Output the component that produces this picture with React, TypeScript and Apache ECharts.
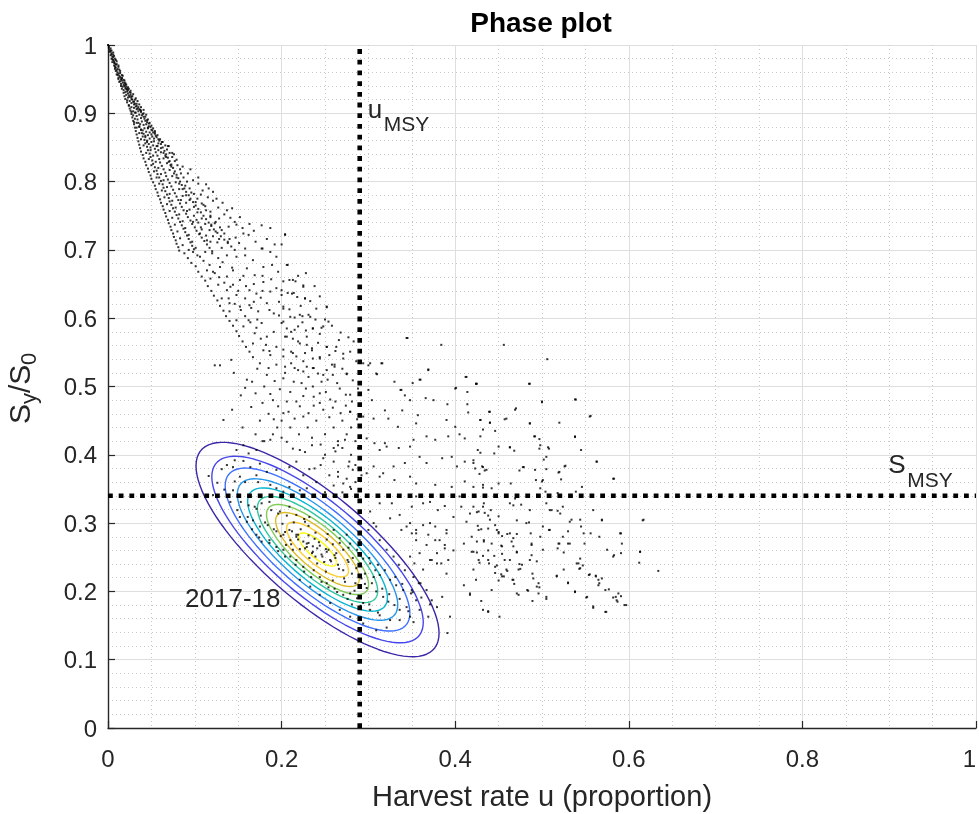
import React, { useEffect, useRef } from 'react';
import * as echarts from 'echarts';

// ---------- axis / reference values ----------
const xTicks = [0, 0.2, 0.4, 0.6, 0.8, 1];
const yTicks = [0, 0.1, 0.2, 0.3, 0.4, 0.5, 0.6, 0.7, 0.8, 0.9, 1];
const uMSY = 0.29;
const sMSY = 0.34;
const titleText = 'Phase plot';
const xName = 'Harvest rate u (proportion)';
const yearLabel = '2017-18';

// ---------- contour (bivariate density of 2017-18) ----------
const contourCenter = [0.2414, 0.2613];
const contourOuterHalf = [0.14, 0.157];
const contourRho = -0.78;
const contourScales = [1, 0.87, 0.76, 0.66, 0.575, 0.495, 0.42, 0.345, 0.255, 0.155];
const contourColors = ['#3E26A8', '#4747EB', '#3E6FFF', '#2796EB', '#08B5D0', '#31C69F', '#80CC59', '#DCBD29', '#FCCF30', '#F9FB15'];

// ---------- posterior draws (u, S/S0) ----------
const drawsTop: [number, number][] = [
  [0,1],[0.001,0.996],[0.002,0.993],[0.003,0.995],[0.002,0.990],[0.004,0.988],[0.003,0.985],[0.005,0.983],[0.004,0.980],[0.006,0.982],
  [0.006,0.978],[0.005,0.975],[0.007,0.976],[0.008,0.973],[0.007,0.970],[0.009,0.971],[0.009,0.967],[0.008,0.965],[0.010,0.963],[0.011,0.965],
  [0.011,0.960],[0.010,0.957],[0.012,0.958],[0.013,0.955],[0.012,0.952],[0.014,0.953],[0.015,0.950],[0.014,0.947],[0.016,0.948],[0.017,0.945],
  [0.015,0.943],[0.018,0.942],[0.017,0.939],[0.019,0.940],[0.020,0.937],[0.018,0.934],[0.021,0.935],[0.020,0.931],[0.022,0.932],[0.023,0.929],
  [0.021,0.927],[0.024,0.926],[0.023,0.923],[0.025,0.924],[0.027,0.921],[0.022,0.919],[0.025,0.918],[0.027,0.915],[0.029,0.917],[0.030,0.913],
  [0.024,0.911],[0.027,0.909],[0.030,0.908],[0.032,0.910],[0.033,0.906],[0.026,0.904],[0.029,0.903],[0.032,0.901],[0.035,0.903],[0.037,0.905],
  [0.001,0.998],[0.003,0.991],[0.004,0.986],[0.005,0.979],[0.007,0.974],[0.008,0.968],[0.009,0.962],[0.011,0.956],[0.012,0.950],[0.013,0.946],
  [0.015,0.940],[0.016,0.936],[0.018,0.930],[0.019,0.925],[0.020,0.921],[0.022,0.916],[0.024,0.912],[0.025,0.907],[0.027,0.902],[0.006,0.986],
  [0.009,0.978],[0.012,0.970],[0.014,0.962],[0.017,0.955],[0.019,0.948],[0.021,0.942],[0.024,0.936],[0.026,0.930],[0.028,0.925],[0.031,0.920],
  [0.033,0.914],[0.035,0.909],[0.038,0.904],[0.040,0.899],[0.029,0.897],[0.031,0.892],[0.033,0.886],[0.036,0.880],[0.038,0.876],[0.041,0.870],
  [0.043,0.865],[0.045,0.860],[0.047,0.855],[0.049,0.850],[0.042,0.892],[0.045,0.887],[0.047,0.881],[0.050,0.876],[0.052,0.872],[0.055,0.867],[0.058,0.862],
  [0.004,0.992],[0.006,0.989],[0.007,0.984],[0.008,0.980],[0.010,0.976],[0.010,0.972],[0.012,0.968],[0.013,0.964],[0.014,0.959],[0.016,0.956],
  [0.016,0.952],[0.018,0.949],[0.019,0.945],[0.020,0.942],[0.021,0.939],[0.022,0.936],[0.023,0.934],[0.025,0.931],[0.026,0.927],[0.027,0.924],
  [0.028,0.920],[0.030,0.917],[0.031,0.914],[0.033,0.911],[0.034,0.907],[0.036,0.906],[0.038,0.902],[0.039,0.897],[0.041,0.895],[0.044,0.898],
  [0.043,0.889],[0.046,0.891],[0.044,0.884],[0.048,0.886],[0.046,0.879],[0.050,0.882],[0.048,0.872],[0.052,0.878],[0.051,0.866],[0.054,0.874],
  [0.053,0.859],[0.057,0.868],[0.056,0.852],[0.060,0.862],[0.058,0.856],[0.063,0.858],[0.061,0.849],[0.066,0.853],[0.064,0.842],[0.068,0.847],
  [0.067,0.836],[0.071,0.842],[0.070,0.829],[0.074,0.836],[0.073,0.822],[0.077,0.830],[0.076,0.812],[0.080,0.824],[0.079,0.806],[0.083,0.818],
  [0.082,0.797],[0.087,0.806],[0.086,0.789],[0.091,0.800],[0.090,0.780],[0.094,0.790],[0.094,0.773],[0.099,0.782],[0.099,0.763],[0.103,0.775],
  [0.103,0.755],[0.108,0.768],[0.108,0.746],[0.113,0.758],[0.112,0.738],[0.118,0.750],[0.117,0.729],[0.124,0.741],[0.121,0.720],[0.129,0.733],
  [0.126,0.711],[0.134,0.724],[0.131,0.703],[0.140,0.716],
  [0.020,0.944],[0.023,0.938],[0.026,0.933],[0.029,0.928],[0.032,0.922],[0.034,0.918],[0.036,0.913],[0.038,0.909],[0.041,0.905],[0.016,0.951],
];

const drawsUpper: [number, number][] = [
  [0.027,0.899],[0.031,0.901],[0.036,0.898],[0.041,0.900],[0.028,0.894],[0.033,0.896],[0.038,0.893],[0.043,0.895],
  [0.029,0.889],[0.034,0.891],[0.039,0.888],[0.045,0.890],[0.030,0.884],[0.035,0.886],[0.041,0.883],[0.047,0.885],
  [0.031,0.879],[0.036,0.881],[0.042,0.878],[0.049,0.880],[0.032,0.874],[0.038,0.876],[0.044,0.873],[0.051,0.875],
  [0.033,0.869],[0.039,0.871],[0.046,0.868],[0.054,0.870],[0.034,0.864],[0.040,0.866],[0.048,0.863],[0.056,0.865],
  [0.035,0.859],[0.042,0.861],[0.050,0.858],[0.059,0.860],[0.036,0.854],[0.043,0.856],[0.052,0.853],[0.061,0.855],
  [0.037,0.849],[0.045,0.851],[0.054,0.848],[0.063,0.850],[0.070,0.852],[0.038,0.844],[0.046,0.846],[0.055,0.843],[0.065,0.845],
  [0.040,0.839],[0.048,0.841],[0.057,0.838],[0.067,0.840],[0.074,0.842],[0.041,0.834],[0.049,0.836],[0.059,0.833],[0.069,0.835],
  [0.043,0.829],[0.051,0.831],[0.060,0.828],[0.071,0.830],[0.079,0.832],[0.044,0.824],[0.052,0.826],[0.062,0.823],[0.073,0.825],
  [0.046,0.819],[0.054,0.821],[0.064,0.818],[0.075,0.820],[0.086,0.822],[0.047,0.814],[0.056,0.816],[0.066,0.813],[0.077,0.815],
  [0.049,0.809],[0.057,0.811],[0.067,0.808],[0.079,0.810],[0.092,0.812],[0.050,0.804],[0.059,0.806],[0.069,0.803],[0.081,0.805],
  [0.052,0.799],[0.061,0.801],[0.071,0.798],[0.083,0.800],[0.098,0.802],[0.054,0.794],[0.063,0.796],[0.073,0.793],[0.085,0.795],[0.104,0.797],
  [0.055,0.789],[0.064,0.791],[0.075,0.788],[0.088,0.790],[0.057,0.784],[0.066,0.786],[0.077,0.783],[0.090,0.785],[0.109,0.787],
  [0.058,0.779],[0.068,0.781],[0.079,0.778],[0.093,0.780],[0.060,0.774],[0.070,0.776],[0.081,0.773],[0.095,0.775],[0.115,0.777],
  [0.061,0.769],[0.071,0.771],[0.083,0.768],[0.098,0.770],[0.121,0.772],[0.063,0.764],[0.073,0.766],[0.085,0.763],[0.101,0.765],
  [0.064,0.759],[0.075,0.761],[0.087,0.758],[0.104,0.760],[0.127,0.762],[0.066,0.754],[0.077,0.756],[0.090,0.753],[0.107,0.755],
  [0.067,0.749],[0.079,0.751],[0.092,0.748],[0.110,0.750],[0.134,0.752],[0.069,0.744],[0.081,0.746],[0.095,0.743],[0.113,0.745],[0.141,0.747],
  [0.070,0.739],[0.083,0.741],[0.097,0.738],[0.116,0.740],[0.072,0.734],[0.085,0.736],[0.100,0.733],[0.119,0.735],[0.148,0.737],
  [0.073,0.729],[0.087,0.731],[0.102,0.728],[0.122,0.730],[0.155,0.732],[0.075,0.724],[0.089,0.726],[0.105,0.723],[0.126,0.725],
  [0.076,0.719],[0.091,0.721],[0.108,0.718],[0.130,0.720],[0.162,0.722],[0.078,0.714],[0.093,0.716],[0.111,0.713],[0.134,0.715],
  [0.079,0.709],[0.095,0.711],[0.114,0.708],[0.138,0.710],[0.170,0.712],[0.081,0.704],[0.097,0.706],[0.117,0.703],[0.142,0.705],
  [0.082,0.699],[0.099,0.701],[0.120,0.698],[0.146,0.700],[0.178,0.702],
  [0.177,0.736],[0.187,0.732],[0.204,0.723],[0.116,0.790],[0.125,0.775],[0.137,0.758],[0.146,0.741],[0.156,0.724],
  [0.110,0.766],[0.118,0.748],[0.123,0.739],[0.131,0.729],[0.138,0.712],[0.106,0.724],[0.114,0.714],[0.102,0.744],
  [0.030,0.887],[0.037,0.884],[0.033,0.879],[0.040,0.875],[0.046,0.878],[0.036,0.871],[0.043,0.867],[0.050,0.869],[0.038,0.862],[0.045,0.858],
  [0.053,0.863],[0.041,0.853],[0.049,0.846],[0.057,0.852],[0.044,0.842],[0.052,0.838],[0.061,0.843],[0.047,0.833],[0.055,0.829],[0.064,0.834],
  [0.050,0.824],[0.058,0.820],[0.068,0.827],[0.053,0.815],[0.061,0.811],[0.071,0.817],[0.056,0.806],[0.064,0.802],[0.074,0.808],[0.059,0.797],
  [0.068,0.792],[0.078,0.799],[0.062,0.787],[0.071,0.782],[0.082,0.789],[0.065,0.777],[0.074,0.772],[0.086,0.779],[0.068,0.767],[0.078,0.762],
  [0.090,0.769],[0.071,0.757],[0.082,0.752],[0.094,0.759],[0.074,0.747],[0.086,0.742],[0.099,0.750],[0.077,0.737],[0.089,0.732],[0.104,0.740],
  [0.080,0.727],[0.093,0.722],[0.108,0.730],[0.083,0.717],[0.097,0.712],[0.113,0.721],[0.086,0.707],[0.101,0.703],[0.118,0.712],
  [0.058,0.846],[0.066,0.838],[0.072,0.824],[0.084,0.812],[0.089,0.794],[0.096,0.784],[0.101,0.770],[0.112,0.764],[0.118,0.756],[0.128,0.746],
  [0.124,0.727],[0.139,0.734],[0.147,0.718],[0.151,0.710],[0.158,0.702],[0.095,0.818],[0.104,0.806],[0.076,0.840],[0.069,0.852],[0.062,0.858],
  [0.054,0.872],[0.107,0.781],[0.113,0.796],[0.121,0.785],[0.132,0.769],[0.143,0.761],[0.152,0.748],[0.163,0.738],[0.168,0.728],[0.183,0.716],
  [0.192,0.708],[0.119,0.737],[0.128,0.716],[0.107,0.733],[0.098,0.741],[0.091,0.757],[0.084,0.773],
];

const drawsMiddle: [number, number][] = [
  [0.093,0.700],[0.098,0.697],[0.106,0.690],[0.112,0.697],[0.120,0.695],[0.127,0.688],[0.137,0.692],[0.148,0.690],[0.158,0.692],[0.167,0.685],
  [0.177,0.702],[0.187,0.697],[0.194,0.690],[0.114,0.670],[0.123,0.666],[0.129,0.675],[0.137,0.661],[0.144,0.670],[0.152,0.656],[0.160,0.673],
  [0.169,0.663],[0.179,0.675],[0.189,0.678],[0.206,0.678],[0.118,0.658],[0.127,0.649],[0.137,0.641],[0.144,0.649],[0.148,0.634],[0.158,0.629],
  [0.163,0.641],[0.171,0.636],[0.179,0.653],[0.187,0.639],[0.194,0.644],[0.200,0.634],[0.212,0.636],[0.225,0.646],[0.227,0.629],[0.213,0.656],
  [0.131,0.629],[0.140,0.622],[0.152,0.617],[0.163,0.619],[0.173,0.610],[0.183,0.622],[0.191,0.607],[0.202,0.614],[0.210,0.602],[0.221,0.605],
  [0.233,0.602],[0.240,0.614],[0.252,0.617],[0.140,0.610],[0.148,0.597],[0.156,0.588],[0.162,0.597],[0.169,0.578],[0.177,0.593],[0.183,0.573],
  [0.191,0.580],[0.200,0.593],[0.206,0.573],[0.215,0.583],[0.219,0.566],[0.229,0.573],[0.236,0.585],[0.248,0.588],[0.254,0.595],[0.167,0.563],
  [0.179,0.553],[0.187,0.546],[0.194,0.558],[0.202,0.544],[0.213,0.549],[0.225,0.537],[0.235,0.553],[0.244,0.541],[0.252,0.558],[0.175,0.534],
  [0.185,0.527],[0.194,0.532],[0.204,0.520],[0.215,0.527],[0.225,0.522],[0.236,0.527],[0.248,0.517],[0.123,0.531],[0.142,0.539],
  [0.088,0.695],[0.092,0.688],[0.096,0.681],[0.101,0.676],[0.104,0.668],[0.108,0.661],[0.112,0.655],[0.115,0.647],[0.119,0.640],[0.122,0.633],
  [0.126,0.626],[0.129,0.618],[0.133,0.611],[0.136,0.603],[0.140,0.596],[0.144,0.589],[0.148,0.581],[0.151,0.574],[0.155,0.566],[0.159,0.558],
  [0.163,0.551],[0.167,0.543],[0.103,0.692],[0.110,0.684],[0.117,0.678],[0.121,0.668],[0.128,0.660],[0.134,0.652],[0.141,0.646],[0.139,0.629],
  [0.146,0.621],[0.153,0.612],[0.158,0.603],[0.164,0.594],[0.171,0.586],[0.176,0.570],[0.182,0.561],[0.186,0.552],[0.172,0.598],[0.165,0.615],
  [0.150,0.640],[0.132,0.682],[0.143,0.674],[0.156,0.662],[0.168,0.650],[0.178,0.640],
  [0.204,0.722],[0.200,0.708],[0.207,0.678],[0.228,0.666],[0.202,0.654],[0.209,0.656],[0.216,0.654],[0.225,0.648],[0.200,0.641],[0.207,0.637],
  [0.214,0.637],[0.218,0.631],[0.227,0.629],[0.202,0.617],[0.209,0.613],[0.215,0.601],[0.224,0.603],[0.231,0.605],[0.239,0.598],[0.250,0.598],
  [0.252,0.616],[0.202,0.595],[0.206,0.585],[0.211,0.580],[0.219,0.588],[0.228,0.582],[0.236,0.585],[0.246,0.586],[0.204,0.573],[0.213,0.570],
  [0.221,0.563],[0.229,0.561],[0.235,0.556],[0.242,0.564],[0.252,0.558],[0.266,0.568],[0.277,0.572],[0.202,0.554],[0.211,0.551],[0.217,0.544],
  [0.227,0.549],[0.236,0.541],[0.244,0.543],[0.255,0.546],[0.279,0.551],[0.204,0.529],[0.211,0.534],[0.219,0.524],[0.229,0.529],[0.237,0.527],
  [0.252,0.524],[0.261,0.532],[0.270,0.526],[0.275,0.518],[0.202,0.512],[0.214,0.507],[0.223,0.505],[0.236,0.500],[0.246,0.507],[0.253,0.510],
  [0.264,0.505],[0.267,0.497],[0.210,0.492],[0.225,0.486],[0.237,0.485],[0.244,0.490],[0.256,0.481],[0.279,0.488],[0.281,0.478],[0.206,0.478],
  [0.221,0.471],[0.237,0.472],[0.248,0.466],[0.259,0.469],[0.279,0.463],[0.202,0.461],[0.225,0.456],
  [0.129,0.531],[0.145,0.520],[0.160,0.510],[0.170,0.490],[0.165,0.470],[0.180,0.500],[0.190,0.480],[0.185,0.460],[0.175,0.450],[0.195,0.440],
  [0.200,0.450],[0.210,0.440],[0.220,0.430],[0.230,0.440],[0.240,0.450],[0.250,0.430],[0.260,0.440],[0.270,0.450],[0.280,0.440],[0.255,0.455],
  [0.235,0.425],[0.245,0.415],[0.265,0.420],[0.275,0.430],[0.285,0.420],[0.190,0.430],[0.200,0.425],[0.155,0.440],[0.170,0.430],[0.180,0.420],
  [0.186,0.612],[0.197,0.604],[0.224,0.594],[0.244,0.577],[0.258,0.589],[0.268,0.579],[0.283,0.566],[0.262,0.552],[0.271,0.541],[0.286,0.537],
  [0.258,0.532],[0.231,0.514],[0.242,0.519],[0.259,0.517],[0.282,0.509],[0.288,0.497],[0.274,0.488],[0.262,0.478],[0.251,0.492],[0.228,0.497],
  [0.217,0.478],[0.198,0.496],[0.192,0.508],[0.183,0.517],[0.172,0.526],[0.166,0.507],[0.158,0.498],[0.187,0.489],[0.196,0.471],[0.208,0.463],
  [0.231,0.461],[0.244,0.476],[0.268,0.461],[0.287,0.452],[0.274,0.472],[0.215,0.453],[0.191,0.452],[0.178,0.476],[0.153,0.487],[0.143,0.466],
  [0.133,0.451],[0.222,0.618],[0.233,0.625],[0.244,0.632],[0.238,0.647],[0.219,0.662],[0.196,0.668],[0.188,0.657],[0.178,0.662],[0.168,0.624],
  [0.176,0.630],[0.197,0.624],[0.159,0.647],
];

const drawsRight: [number, number][] = [
  [0.345,0.571],[0.384,0.561],[0.456,0.561],[0.506,0.540],[0.485,0.504],[0.538,0.481],[0.555,0.456],[0.412,0.514],[0.424,0.504],[0.400,0.497],
  [0.414,0.492],[0.369,0.525],[0.360,0.510],[0.330,0.507],[0.315,0.534],[0.309,0.519],[0.302,0.534],[0.263,0.558],[0.271,0.548],[0.275,0.519],
  [0.261,0.529],[0.300,0.495],[0.337,0.495],[0.342,0.487],[0.344,0.571],[0.369,0.524],[0.413,0.514],[0.425,0.504],[0.401,0.498],[0.351,0.505],
  [0.359,0.510],[0.338,0.495],[0.316,0.534],[0.310,0.518],[0.300,0.531],[0.294,0.534],
  [0.304,0.480],[0.348,0.480],[0.366,0.483],[0.375,0.480],[0.391,0.474],[0.414,0.474],[0.415,0.462],[0.440,0.463],[0.469,0.466],[0.500,0.477],
  [0.538,0.427],[0.339,0.465],[0.319,0.465],[0.306,0.453],[0.357,0.458],[0.279,0.463],[0.294,0.456],[0.323,0.453],[0.334,0.441],[0.355,0.446],
  [0.390,0.451],[0.400,0.441],[0.429,0.451],[0.440,0.447],[0.457,0.452],[0.486,0.446],[0.491,0.427],[0.498,0.414],[0.507,0.411],[0.463,0.411],
  [0.450,0.412],[0.405,0.430],[0.411,0.424],[0.392,0.427],[0.377,0.422],[0.367,0.427],[0.352,0.422],[0.348,0.412],[0.335,0.410],[0.319,0.417],
  [0.321,0.412],[0.313,0.407],[0.307,0.417],[0.298,0.424],[0.273,0.422],[0.265,0.414],[0.260,0.410],[0.359,0.397],[0.367,0.388],[0.385,0.395],
  [0.396,0.397],[0.402,0.383],[0.411,0.390],[0.421,0.388],[0.431,0.383],[0.436,0.378],[0.478,0.382],[0.505,0.397],[0.526,0.383],[0.563,0.390],
  [0.582,0.365],[0.520,0.375],[0.492,0.378],[0.501,0.363],[0.342,0.388],[0.329,0.383],[0.317,0.373],[0.306,0.383],[0.298,0.373],[0.313,0.368],
  [0.282,0.378],[0.277,0.383],[0.271,0.358],[0.279,0.353],[0.265,0.368],[0.330,0.363],[0.348,0.368],[0.355,0.358],[0.377,0.356],[0.396,0.353],
  [0.411,0.361],[0.432,0.356],[0.464,0.358],
  [0.355,0.339],[0.363,0.329],[0.371,0.331],[0.380,0.319],[0.388,0.325],[0.398,0.309],[0.405,0.339],[0.407,0.324],[0.417,0.314],[0.425,0.316],
  [0.438,0.311],[0.448,0.290],[0.433,0.329],[0.463,0.329],[0.469,0.336],[0.486,0.319],[0.509,0.319],[0.521,0.314],[0.532,0.302],[0.559,0.319],
  [0.569,0.304],[0.616,0.304],[0.590,0.285],[0.482,0.300],[0.501,0.295],[0.548,0.285],[0.463,0.285],[0.371,0.300],[0.348,0.300],[0.336,0.312],
  [0.350,0.324],[0.327,0.329],[0.313,0.329],[0.302,0.317],[0.306,0.300],[0.325,0.307],[0.338,0.290],[0.355,0.285],[0.390,0.290],[0.413,0.302],
  [0.427,0.290],[0.450,0.285],
  [0.377,0.275],[0.388,0.268],[0.398,0.260],[0.410,0.270],[0.419,0.258],[0.433,0.273],[0.454,0.266],[0.465,0.273],[0.471,0.258],[0.488,0.270],
  [0.486,0.246],[0.477,0.239],[0.473,0.232],[0.467,0.217],[0.454,0.222],[0.446,0.236],[0.438,0.246],[0.427,0.246],[0.421,0.232],[0.417,0.197],
  [0.410,0.209],[0.392,0.246],[0.379,0.241],[0.371,0.246],[0.363,0.232],[0.358,0.212],[0.350,0.202],[0.385,0.192],[0.394,0.163],[0.432,0.173],
  [0.438,0.170],[0.471,0.197],[0.483,0.202],[0.494,0.207],[0.496,0.197],[0.505,0.192],[0.517,0.222],[0.525,0.232],[0.530,0.212],[0.538,0.199],
  [0.542,0.241],[0.544,0.234],[0.554,0.224],[0.562,0.222],[0.566,0.212],[0.573,0.202],[0.585,0.192],[0.587,0.185],[0.595,0.180],[0.573,0.170],
  [0.559,0.178],[0.552,0.192],[0.582,0.251],[0.592,0.270],[0.613,0.258],[0.509,0.290],[0.524,0.280],[0.532,0.270],[0.519,0.270],[0.501,0.261],
  [0.457,0.246],[0.459,0.232],
  [0.424,0.504],[0.486,0.504],[0.500,0.478],[0.539,0.481],[0.556,0.457],[0.470,0.468],[0.459,0.453],[0.439,0.463],[0.429,0.451],[0.440,0.447],
  [0.432,0.437],[0.446,0.435],[0.486,0.446],[0.520,0.447],[0.492,0.427],[0.497,0.423],[0.538,0.426],[0.429,0.427],[0.426,0.407],[0.429,0.403],
  [0.445,0.402],[0.463,0.411],[0.468,0.406],[0.497,0.409],[0.508,0.409],[0.545,0.407],[0.502,0.393],[0.563,0.390],[0.479,0.382],[0.474,0.377],
  [0.505,0.379],[0.527,0.384],[0.519,0.374],[0.522,0.364],[0.493,0.363],[0.500,0.361],[0.583,0.365],[0.421,0.392],[0.432,0.382],[0.423,0.380],
  [0.434,0.377],[0.428,0.372],[0.421,0.353],[0.432,0.352],[0.442,0.351],[0.450,0.358],[0.498,0.351],[0.504,0.346],[0.518,0.344],[0.539,0.346],
  [0.546,0.353],[0.421,0.324],[0.427,0.317],[0.434,0.315],[0.441,0.319],[0.450,0.310],[0.432,0.324],[0.467,0.326],[0.476,0.327],[0.505,0.329],
  [0.511,0.319],[0.518,0.318],[0.524,0.324],[0.534,0.305],[0.544,0.305],[0.569,0.305],[0.617,0.305],[0.471,0.304],[0.485,0.301],[0.440,0.305],
  [0.446,0.297],[0.426,0.296],[0.430,0.291],[0.438,0.292],[0.450,0.287],[0.454,0.281],[0.460,0.284],[0.471,0.284],[0.467,0.278],[0.487,0.285],
  [0.498,0.280],[0.508,0.290],[0.530,0.288],[0.545,0.295],[0.556,0.285],[0.566,0.280],[0.591,0.285],[0.419,0.280],[0.425,0.273],[0.433,0.275],
  [0.442,0.270],[0.453,0.267],[0.467,0.266],[0.488,0.253],[0.488,0.268],[0.518,0.263],[0.525,0.257],[0.520,0.270],[0.530,0.270],[0.549,0.270],
  [0.575,0.261],[0.583,0.253],[0.591,0.256],[0.613,0.258],[0.421,0.258],[0.425,0.257],[0.432,0.252],[0.438,0.260],[0.445,0.252],[0.454,0.255],
  [0.471,0.257],[0.474,0.240],[0.494,0.244],[0.428,0.242],[0.439,0.241],[0.448,0.238],[0.460,0.230],[0.475,0.233],[0.489,0.226],[0.463,0.246],
  [0.540,0.241],[0.544,0.248],[0.547,0.238],[0.543,0.233],[0.555,0.225],[0.562,0.223],[0.565,0.217],[0.569,0.219],[0.565,0.209],[0.577,0.203],
  [0.582,0.191],[0.586,0.187],[0.588,0.197],[0.591,0.193],[0.597,0.180],[0.634,0.230],[0.612,0.242],[0.530,0.213],[0.517,0.223],[0.496,0.212],
  [0.497,0.206],[0.490,0.219],[0.468,0.211],[0.466,0.217],[0.456,0.222],[0.453,0.225],[0.446,0.227],[0.450,0.216],[0.424,0.217],[0.442,0.202],
  [0.430,0.186],[0.473,0.195],[0.484,0.201],[0.489,0.186],[0.505,0.189],[0.538,0.200],[0.551,0.191],[0.559,0.176],[0.574,0.170],[0.438,0.171],
  [0.451,0.163],[0.417,0.195],
];

const drawsEllipse: [number, number][] = [
  [0.178,0.420],[0.187,0.422],[0.206,0.419],[0.213,0.409],[0.221,0.407],[0.235,0.414],[0.227,0.404],[0.148,0.407],[0.156,0.414],[0.162,0.402],
  [0.171,0.407],[0.146,0.392],[0.156,0.391],[0.137,0.385],[0.144,0.382],[0.164,0.382],[0.175,0.387],[0.183,0.375],[0.194,0.378],[0.209,0.382],
  [0.217,0.390],[0.225,0.370],[0.232,0.379],[0.238,0.380],[0.171,0.370],[0.152,0.368],[0.158,0.360],[0.173,0.360],[0.187,0.356],[0.194,0.351],
  [0.202,0.346],[0.209,0.353],[0.221,0.348],[0.229,0.351],[0.144,0.348],[0.153,0.331],[0.162,0.326],[0.169,0.324],[0.177,0.329],[0.188,0.319],
  [0.198,0.317],[0.209,0.324],[0.217,0.312],[0.227,0.302],[0.232,0.309],[0.152,0.309],[0.160,0.302],[0.167,0.304],[0.175,0.295],[0.184,0.297],
  [0.194,0.288],[0.202,0.283],[0.209,0.290],[0.217,0.280],[0.225,0.273],[0.171,0.283],[0.177,0.273],[0.186,0.275],[0.194,0.265],[0.205,0.268],
  [0.213,0.261],[0.229,0.265],[0.236,0.258],
  [0.204,0.287],[0.210,0.275],[0.217,0.283],[0.229,0.270],[0.235,0.256],[0.241,0.263],[0.247,0.251],[0.252,0.258],[0.256,0.246],[0.261,0.253],
  [0.265,0.239],[0.271,0.231],[0.277,0.243],[0.281,0.226],[0.273,0.214],[0.285,0.212],[0.292,0.219],[0.298,0.205],[0.304,0.212],[0.309,0.200],
  [0.317,0.192],[0.323,0.185],[0.330,0.180],[0.336,0.173],[0.325,0.158],[0.313,0.165],[0.302,0.173],[0.294,0.183],[0.287,0.190],[0.279,0.197],
  [0.271,0.195],[0.261,0.204],[0.252,0.212],[0.244,0.221],[0.237,0.231],[0.225,0.236],[0.217,0.246],[0.210,0.251],[0.202,0.261],[0.221,0.217],
  [0.233,0.207],[0.244,0.195],[0.256,0.183],[0.267,0.173],[0.279,0.163],[0.294,0.153],[0.309,0.143],[0.321,0.147],[0.336,0.158],[0.352,0.155],
  [0.348,0.163],[0.344,0.177],[0.355,0.187],[0.349,0.197],[0.340,0.202],[0.332,0.209],[0.325,0.217],[0.313,0.224],[0.308,0.231],[0.302,0.241],
  [0.294,0.248],[0.287,0.261],[0.279,0.270],[0.275,0.283],[0.267,0.278],[0.260,0.290],[0.290,0.275],[0.300,0.290],[0.309,0.295],[0.313,0.275],
  [0.321,0.261],[0.329,0.251],[0.335,0.239],[0.342,0.231],[0.352,0.221],[0.360,0.212],[0.367,0.202],[0.373,0.187],[0.379,0.177],[0.359,0.173],
  [0.369,0.163],[0.391,0.139],[0.344,0.295],[0.350,0.285],[0.355,0.290],[0.363,0.297],[0.369,0.283],[0.377,0.295],[0.382,0.275],[0.390,0.285],
  [0.388,0.263],[0.379,0.256],[0.373,0.246],[0.367,0.268],[0.359,0.256],[0.355,0.275],[0.384,0.241],[0.390,0.226],[0.353,0.241],[0.348,0.251],
  [0.222,0.291],[0.231,0.282],[0.243,0.272],[0.251,0.262],[0.262,0.249],[0.236,0.266],[0.246,0.254],[0.257,0.244],[0.266,0.233],[0.214,0.301],
  [0.226,0.306],[0.206,0.311],[0.196,0.314],[0.186,0.331],[0.231,0.296],[0.239,0.286],[0.252,0.276],[0.259,0.269],[0.271,0.261],[0.282,0.249],
  [0.291,0.241],[0.276,0.246],[0.286,0.234],[0.296,0.226],[0.272,0.219],[0.259,0.216],[0.251,0.229],[0.241,0.241],[0.232,0.249],[0.221,0.262],
  [0.211,0.269],[0.199,0.281],[0.191,0.291],[0.181,0.301],[0.176,0.311],[0.201,0.299],[0.212,0.288],[0.219,0.276],[0.231,0.271],[0.244,0.267],
  [0.254,0.261],[0.263,0.256],[0.249,0.243],[0.239,0.251],[0.227,0.263],[0.219,0.283],[0.238,0.277],[0.253,0.284],[0.267,0.271],[0.277,0.264],
  [0.289,0.256],[0.301,0.249],[0.311,0.239],[0.306,0.221],[0.296,0.211],[0.284,0.201],[0.276,0.189],[0.264,0.199],[0.254,0.206],[0.246,0.214],
  [0.234,0.221],[0.226,0.229],[0.216,0.239],[0.204,0.251],[0.196,0.259],[0.186,0.271],[0.174,0.279],[0.166,0.291],[0.161,0.309],[0.171,0.321],
  [0.149,0.319],[0.141,0.331],[0.134,0.349],[0.146,0.361],[0.126,0.359],[0.131,0.379],[0.121,0.341],[0.116,0.369],[0.319,0.231],[0.331,0.221],
  [0.339,0.211],[0.351,0.199],[0.361,0.191],[0.371,0.181],[0.316,0.204],[0.324,0.196],[0.336,0.189],[0.346,0.171],[0.301,0.181],[0.311,0.169],
  [0.291,0.179],[0.281,0.181],
  [0.250,0.400],[0.260,0.390],[0.270,0.410],[0.280,0.400],[0.285,0.385],[0.265,0.375],[0.255,0.370],[0.275,0.365],[0.245,0.385],[0.240,0.360],
  [0.260,0.355],[0.280,0.350],[0.270,0.345],[0.250,0.345],[0.285,0.360],[0.292,0.370],[0.278,0.390],[0.288,0.410],[0.262,0.405],[0.248,0.395],
];

const allDraws: [number, number][] = [...drawsTop, ...drawsUpper, ...drawsMiddle, ...drawsRight, ...drawsEllipse];

const FONT = "'Liberation Sans', Arial, Helvetica, sans-serif";
const AX = '#262626';

function ellipse(scale: number): number[][] {
  const pts: number[][] = [];
  const [cx, cy] = contourCenter;
  const [ax, ay] = contourOuterHalf;
  const r = contourRho;
  const q = Math.sqrt(1 - r * r);
  for (let i = 0; i <= 96; i++) {
    const t = (i / 96) * Math.PI * 2;
    const c = Math.cos(t);
    const s = Math.sin(t);
    pts.push([cx + scale * ax * c, cy + scale * ay * (r * c + q * s)]);
  }
  return pts;
}

export default function App() {
  const ref = useRef<HTMLDivElement>(null);
  useEffect(() => {
    if (!ref.current) return;
    const chart = echarts.init(ref.current, undefined, { renderer: 'svg' });
    const contourSeries = contourScales.map((sc, i) => ({
      type: 'line',
      data: ellipse(sc),
      showSymbol: false,
      symbol: 'none',
      silent: true,
      z: 2,
      lineStyle: { color: contourColors[i], width: 1.4 },
    }));
    const dotted = { color: '#000', width: 4.6, type: [4.8, 5.9] as any, cap: 'butt' };
    chart.setOption({
      animation: false,
      grid: { left: 108, top: 45, width: 868, height: 683, containLabel: false, outerBoundsMode: 'none' },
      xAxis: {
        type: 'value', min: xTicks[0], max: xTicks[xTicks.length - 1], interval: 0.2,
        axisLine: { show: true, onZero: false, lineStyle: { color: AX, width: 1.4 } },
        axisTick: { show: true, inside: true, length: 7, lineStyle: { color: AX, width: 1.2 } },
        minorTick: { show: false, splitNumber: 4 },
        axisLabel: { fontSize: 24, color: AX, margin: 18, fontFamily: FONT, alignMaxLabel: 'right' },
        splitLine: { show: true, lineStyle: { color: '#dedede', width: 1 } },
        minorSplitLine: { show: true, lineStyle: { color: '#c9c9c9', width: 1, type: [1, 3] } },
        name: xName, nameLocation: 'middle', nameGap: 53,
        nameTextStyle: { fontSize: 29, color: AX, fontFamily: FONT },
      },
      yAxis: {
        type: 'value', min: yTicks[0], max: yTicks[yTicks.length - 1], interval: 0.1,
        axisLine: { show: true, onZero: false, lineStyle: { color: AX, width: 1.4 } },
        axisTick: { show: true, inside: true, length: 7, lineStyle: { color: AX, width: 1.2 } },
        minorTick: { show: false, splitNumber: 5 },
        axisLabel: { fontSize: 24, color: AX, margin: 11, fontFamily: FONT },
        splitLine: { show: true, lineStyle: { color: '#dedede', width: 1 } },
        minorSplitLine: { show: true, lineStyle: { color: '#c9c9c9', width: 1, type: [1, 3] } },
      },
      series: [
        ...contourSeries,
        {
          type: 'scatter', data: allDraws, symbol: 'rect', symbolSize: 2, silent: true, z: 3,
          itemStyle: { color: '#000' },
        },
        { type: 'line', data: [[uMSY, 0], [uMSY, 1]], showSymbol: false, symbol: 'none', silent: true, z: 4, lineStyle: dotted },
        { type: 'line', data: [[0, sMSY], [1, sMSY]], showSymbol: false, symbol: 'none', silent: true, z: 4, lineStyle: dotted },
      ],
    });

    const p = (x: number, y: number) => chart.convertToPixel({ gridIndex: 0 }, [x, y]) as number[];
    const uPos = p(uMSY, 0.9);
    const sPos = p(0.9, sMSY);
    const yrPos = p(0.09, 0.19);
    const txt = (x: number, y: number, text: string, size: number, extra: any = {}) => ({
      type: 'text', x, y, silent: true, z: 10,
      style: { text, fontSize: size, fontFamily: FONT, fill: AX, textAlign: 'left', textVerticalAlign: 'middle', ...extra },
    });
    chart.setOption({
      graphic: [
        txt(541, 22, titleText, 28, { fontWeight: 'bold', fill: '#000', textAlign: 'center' }),
        txt(uPos[0] + 8, uPos[1] - 4, 'u', 26),
        txt(uPos[0] + 24, uPos[1] + 10, 'MSY', 21),
        txt(sPos[0] - 1, sPos[1] - 32, 'S', 26),
        txt(sPos[0] + 18, sPos[1] - 16, 'MSY', 21),
        txt(yrPos[0] - 1, yrPos[1], yearLabel, 26),
        {
          type: 'group', x: 19, y: 424, rotation: Math.PI / 2, silent: true,
          children: [
            txt(0, 0, 'S', 30),
            txt(20, 9, 'y', 22),
            txt(31, 0, '/S', 30),
            txt(59, 9, '0', 22),
          ],
        },
      ],
    });
    return () => chart.dispose();
  }, []);
  return <div ref={ref} style={{ position: 'fixed', left: 0, top: 0, width: 979, height: 814 }} />;
}
